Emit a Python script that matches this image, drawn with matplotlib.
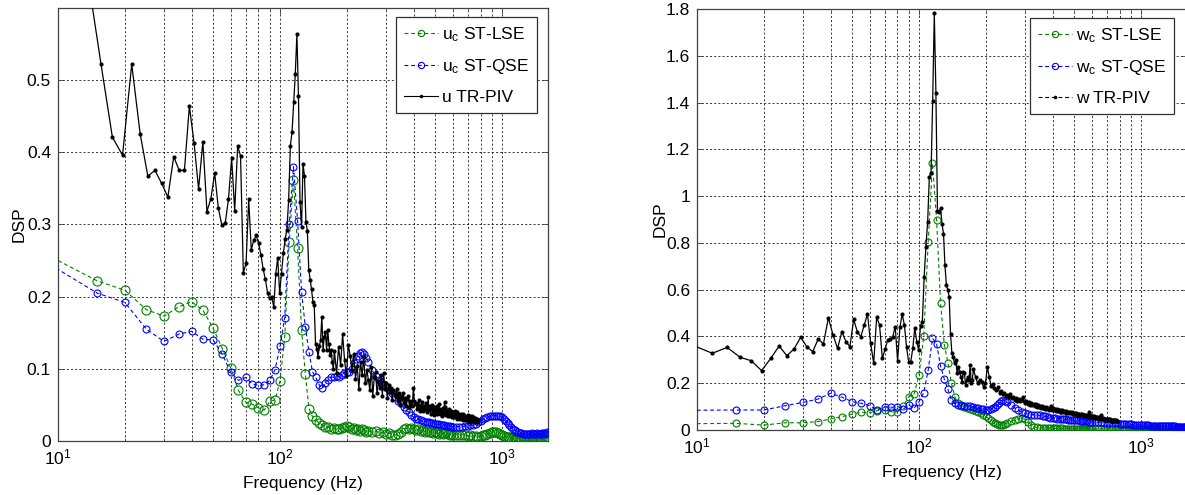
import numpy as np
import matplotlib
matplotlib.use("Agg")
import matplotlib.pyplot as plt
from matplotlib.lines import Line2D
from matplotlib.ticker import LogLocator, FixedLocator, FormatStrFormatter, NullFormatter, LogFormatterMathtext

plt.rcParams['font.family'] = ['Liberation Sans', 'DejaVu Sans']
plt.rcParams['mathtext.fontset'] = 'custom'
plt.rcParams['mathtext.rm'] = 'Liberation Sans'
plt.rcParams['mathtext.it'] = 'Liberation Sans:italic'
plt.rcParams['mathtext.bf'] = 'Liberation Sans:bold'

# ---------------- data ----------------
DF = 1000.0 / 512.0                      # TR-PIV frequency resolution (Hz)
u_piv_bins = np.r_[np.arange(7, 90), np.arange(90, 401, 2)]
w_piv_bins = np.r_[np.arange(5, 90), np.arange(90, 401, 2)]
freq_u_piv = DF * u_piv_bins
freq_w_piv = DF * w_piv_bins
freq_est = np.r_[5, np.arange(15, 251, 5), np.arange(260, 601, 10), np.arange(620, 1601, 20)]

u_piv = [
    0.64, 0.522, 0.421, 0.396, 0.522, 0.426, 0.367, 0.375, 0.357, 0.338,
    0.394, 0.375, 0.375, 0.464, 0.413, 0.349, 0.415, 0.318, 0.336, 0.371,
    0.323, 0.299, 0.302, 0.335, 0.392, 0.319, 0.409, 0.395, 0.233, 0.246,
    0.335, 0.265, 0.278, 0.285, 0.274, 0.258, 0.238, 0.224, 0.205, 0.198,
    0.199, 0.186, 0.232, 0.254, 0.205, 0.232, 0.260, 0.280, 0.293, 0.334,
    0.409, 0.428, 0.470, 0.509, 0.564, 0.478, 0.331, 0.297, 0.384, 0.367,
    0.304, 0.291,
    0.237, 0.223, 0.210, 0.193, 0.188, 0.135, 0.128, 0.117, 0.131, 0.140,
    0.172, 0.126, 0.144, 0.151, 0.126, 0.154, 0.135, 0.119, 0.126, 0.110,
    0.100,
    # coarser part (every second bin)
    0.125, 0.094, 0.130, 0.105, 0.148, 0.112, 0.090, 0.133, 0.118, 0.098,
    0.120, 0.086, 0.104, 0.072, 0.110, 0.091, 0.117, 0.080, 0.099, 0.085,
    0.070, 0.102, 0.062, 0.088, 0.095, 0.066, 0.083, 0.074, 0.091, 0.063,
    0.094, 0.072, 0.081, 0.060, 0.078, 0.068, 0.074, 0.057, 0.070, 0.065,
    0.061, 0.072, 0.055, 0.066, 0.050, 0.063, 0.058, 0.067, 0.052, 0.060,
    0.049, 0.058, 0.062, 0.047, 0.055, 0.050, 0.048, 0.073, 0.056, 0.051,
    0.053, 0.044, 0.049, 0.057, 0.042, 0.050, 0.046, 0.054, 0.041, 0.049,
    0.044, 0.052, 0.047, 0.040, 0.061, 0.043, 0.048, 0.038, 0.046, 0.050,
    0.041, 0.047, 0.036, 0.045, 0.040, 0.049, 0.038, 0.043, 0.051, 0.037,
    0.044, 0.039, 0.042, 0.035, 0.046, 0.038, 0.054, 0.047, 0.036, 0.040,
    0.043, 0.034, 0.039, 0.045, 0.035, 0.038, 0.041, 0.033, 0.040, 0.036,
    0.039, 0.033, 0.042, 0.034, 0.037, 0.031, 0.040, 0.035, 0.038, 0.032,
    0.036, 0.031, 0.038, 0.033, 0.035, 0.029, 0.037, 0.032, 0.034, 0.030,
    0.035, 0.029, 0.033, 0.030, 0.036, 0.028, 0.032, 0.030, 0.034, 0.027,
    0.032, 0.029, 0.034, 0.028, 0.031, 0.033, 0.027, 0.031, 0.029, 0.032,
    0.028, 0.031, 0.026, 0.030, 0.027, 0.029,
]

u_lse = [
    0.298,
    0.222, 0.209, 0.182, 0.173, 0.186, 0.193, 0.181, 0.156, 0.128, 0.101,
    0.070, 0.054, 0.051, 0.046, 0.043, 0.055, 0.057, 0.083, 0.144, 0.276,
    0.361, 0.267, 0.154, 0.093, 0.045, 0.034, 0.029, 0.025, 0.022, 0.020,
    0.019, 0.017, 0.018, 0.016, 0.017, 0.018, 0.020, 0.021, 0.019, 0.017,
    0.018, 0.015, 0.016, 0.014, 0.016, 0.015, 0.013, 0.014,
    0.012, 0.014, 0.011, 0.012, 0.010, 0.011, 0.009, 0.008, 0.010, 0.013,
    0.016, 0.018, 0.017, 0.018, 0.016, 0.015, 0.016, 0.014, 0.015, 0.013,
    0.014, 0.012, 0.013, 0.011, 0.012, 0.011, 0.010, 0.011, 0.010, 0.011,
    0.012, 0.010, 0.009, 0.010, 0.009,
    0.009, 0.008, 0.009, 0.008, 0.007, 0.008, 0.007, 0.007, 0.006, 0.007,
    0.008, 0.009, 0.010, 0.011, 0.012, 0.013, 0.012, 0.011, 0.010, 0.008,
    0.007, 0.006, 0.005, 0.005, 0.004, 0.004, 0.004, 0.003, 0.004, 0.004,
    0.003, 0.004, 0.004, 0.003, 0.004, 0.004, 0.003, 0.004, 0.004, 0.003,
    0.004, 0.004, 0.003, 0.004, 0.004, 0.003, 0.004, 0.004, 0.005, 0.006,
]

u_qse = [
    0.294,
    0.205, 0.192, 0.155, 0.138, 0.148, 0.152, 0.141, 0.140, 0.120, 0.095,
    0.084, 0.088, 0.079, 0.077, 0.078, 0.084, 0.099, 0.131, 0.171, 0.300,
    0.380, 0.305, 0.207, 0.158, 0.124, 0.096, 0.088, 0.078, 0.073, 0.080,
    0.085, 0.089, 0.088, 0.090, 0.089, 0.092, 0.094, 0.095, 0.096, 0.100,
    0.108, 0.114, 0.118, 0.122, 0.124, 0.120, 0.115, 0.110,
    0.098, 0.090, 0.085, 0.079, 0.075, 0.070, 0.066, 0.061, 0.056, 0.052,
    0.047, 0.043, 0.040, 0.036, 0.033, 0.031, 0.030, 0.029, 0.028, 0.027,
    0.027, 0.026, 0.025, 0.025, 0.024, 0.023, 0.023, 0.022, 0.022, 0.022,
    0.021, 0.021, 0.021, 0.020, 0.020,
    0.020, 0.020, 0.020, 0.021, 0.021, 0.022, 0.022, 0.024, 0.026, 0.028,
    0.030, 0.032, 0.033, 0.034, 0.035, 0.035, 0.035, 0.034, 0.034, 0.033,
    0.031, 0.028, 0.025, 0.022, 0.019, 0.017, 0.015, 0.013, 0.012, 0.011,
    0.011, 0.010, 0.010, 0.010, 0.010, 0.010, 0.010, 0.011, 0.010, 0.010,
    0.010, 0.011, 0.010, 0.010, 0.010, 0.011, 0.011, 0.010, 0.011, 0.012,
]

w_piv = [
    0.359, 0.328, 0.353, 0.311, 0.296, 0.254, 0.306, 0.359, 0.318, 0.346,
    0.396, 0.356, 0.335, 0.389, 0.368, 0.480, 0.406, 0.349, 0.420, 0.378,
    0.356, 0.473, 0.420, 0.399, 0.449, 0.496, 0.371, 0.285, 0.482, 0.449,
    0.306, 0.345, 0.385, 0.388, 0.399, 0.442, 0.295, 0.439, 0.496, 0.449,
    0.353, 0.292, 0.292,
    0.349, 0.437, 0.378, 0.342, 0.445, 0.463, 0.655, 0.784, 0.891, 1.083,
    1.100, 1.408, 1.781, 1.442,
    0.938, 0.930, 0.948, 0.880, 0.840, 0.705, 0.620, 0.599, 0.570, 0.410,
    0.328, 0.313, 0.285, 0.299, 0.242, 0.270, 0.249, 0.228, 0.207, 0.249,
    0.242, 0.192, 0.214, 0.228, 0.214, 0.278, 0.200, 0.214,
    # coarser part (every second bin)
    0.260, 0.228, 0.200, 0.214, 0.207, 0.185, 0.200, 0.270, 0.228, 0.190,
    0.195, 0.178, 0.172, 0.185, 0.160, 0.168, 0.152, 0.160, 0.145, 0.150,
    0.140, 0.152, 0.135, 0.142, 0.130, 0.138, 0.126, 0.133, 0.122, 0.130,
    0.142, 0.122, 0.116, 0.125, 0.113, 0.120, 0.108, 0.117, 0.106, 0.112,
    0.104, 0.111, 0.100, 0.107, 0.097, 0.104, 0.095, 0.101, 0.093, 0.099,
    0.091, 0.098, 0.089, 0.095, 0.087, 0.093, 0.101, 0.086, 0.092, 0.084,
    0.090, 0.083, 0.088, 0.081, 0.087, 0.079, 0.085, 0.078, 0.084, 0.077,
    0.082, 0.076, 0.081, 0.074, 0.079, 0.073, 0.078, 0.072, 0.077, 0.071,
    0.075, 0.070, 0.074, 0.068, 0.073, 0.067, 0.072, 0.066, 0.070, 0.065,
    0.069, 0.064, 0.068, 0.063, 0.067, 0.062, 0.066, 0.061, 0.065, 0.060,
    0.064, 0.059, 0.063, 0.058, 0.078, 0.057, 0.062, 0.056, 0.060, 0.055,
    0.059, 0.054, 0.058, 0.053, 0.057, 0.052, 0.056, 0.051, 0.055, 0.050,
    0.054, 0.049, 0.053, 0.048, 0.064, 0.047, 0.052, 0.046, 0.050, 0.045,
    0.049, 0.045, 0.048, 0.044, 0.047, 0.043, 0.046, 0.042, 0.046, 0.041,
    0.045, 0.041, 0.044, 0.040, 0.043, 0.039, 0.043, 0.038, 0.042, 0.039,
    0.042, 0.038, 0.041, 0.037, 0.040, 0.038,
]

w_lse = [
    0.025,
    0.0285, 0.021, 0.031, 0.031, 0.036, 0.047, 0.057, 0.068, 0.076, 0.074,
    0.083, 0.085, 0.078, 0.078, 0.104, 0.142, 0.154, 0.235, 0.400, 0.805,
    1.140, 0.900, 0.544, 0.365, 0.287, 0.200, 0.142, 0.114, 0.104, 0.097,
    0.093, 0.090, 0.087, 0.082, 0.078, 0.072, 0.065, 0.058, 0.050, 0.043,
    0.036, 0.030, 0.026, 0.022, 0.020, 0.022, 0.026, 0.030,
    0.037, 0.044, 0.048, 0.050, 0.046, 0.036, 0.022, 0.013, 0.011, 0.010,
    0.009, 0.009, 0.008, 0.008, 0.008, 0.007, 0.007, 0.007, 0.007, 0.006,
    0.006, 0.006, 0.006, 0.006, 0.006, 0.005, 0.006, 0.005, 0.005, 0.005,
    0.005, 0.005, 0.005, 0.005, 0.005,
    0.006, 0.005, 0.006, 0.005, 0.005, 0.006, 0.005, 0.005, 0.004, 0.005,
    0.005, 0.004, 0.005, 0.004, 0.004, 0.005, 0.004, 0.004, 0.004, 0.004,
    0.004, 0.004, 0.004, 0.003, 0.004, 0.004, 0.003, 0.004, 0.004, 0.003,
    0.004, 0.004, 0.003, 0.004, 0.003, 0.004, 0.004, 0.003, 0.004, 0.003,
    0.004, 0.004, 0.003, 0.004, 0.003, 0.004, 0.004, 0.003, 0.004, 0.004,
]

w_qse = [
    0.083,
    0.0855, 0.0855, 0.104, 0.118, 0.132, 0.157, 0.140, 0.121, 0.114, 0.104,
    0.0855, 0.100, 0.097, 0.100, 0.090, 0.107, 0.093, 0.121, 0.160, 0.256,
    0.392, 0.368, 0.274, 0.217, 0.174, 0.128, 0.114, 0.107, 0.105, 0.104,
    0.103, 0.102, 0.100, 0.096, 0.093, 0.090, 0.088, 0.086, 0.086, 0.088,
    0.094, 0.100, 0.107, 0.114, 0.122, 0.127, 0.125, 0.118,
    0.107, 0.095, 0.085, 0.077, 0.071, 0.068, 0.066, 0.065, 0.064, 0.062,
    0.060, 0.058, 0.055, 0.053, 0.051, 0.050, 0.049, 0.048, 0.047, 0.046,
    0.045, 0.044, 0.043, 0.043, 0.042, 0.041, 0.041, 0.040, 0.039, 0.039,
    0.038, 0.037, 0.036, 0.036, 0.035,
    0.034, 0.033, 0.033, 0.032, 0.031, 0.031, 0.030, 0.029, 0.028, 0.027,
    0.026, 0.026, 0.025, 0.024, 0.024, 0.023, 0.023, 0.022, 0.022, 0.021,
    0.021, 0.020, 0.020, 0.020, 0.019, 0.019, 0.018, 0.018, 0.018, 0.017,
    0.017, 0.017, 0.016, 0.016, 0.016, 0.016, 0.015, 0.015, 0.015, 0.015,
    0.015, 0.014, 0.014, 0.014, 0.014, 0.014, 0.014, 0.014, 0.014, 0.014,
]

u_labels = [r"u$_{\rm c}$ ST-LSE", r"u$_{\rm c}$ ST-QSE", "u TR-PIV"]
w_labels = [r"w$_{\rm c}$ ST-LSE", r"w$_{\rm c}$ ST-QSE", "w TR-PIV"]
u_yticks = [0, 0.1, 0.2, 0.3, 0.4, 0.5]
w_yticks = [0, 0.2, 0.4, 0.6, 0.8, 1.0, 1.2, 1.4, 1.6, 1.8]
XLIM = (10, 1611)

GREEN = '#008000'
BLUE = '#0000ff'
DASH = (0, (3.5, 2.5))

# ---------------- figure ----------------
fig = plt.figure(figsize=(11.85, 4.95), dpi=100)
W, H = 1185.0, 495.0
axL = fig.add_axes([58 / W, 1 - 441 / H, 490 / W, 433 / H])
axR = fig.add_axes([697 / W, 1 - 430 / H, 490 / W, 421 / H])


def style_axes(ax, ylim, yticks):
    ax.set_xscale('log')
    ax.set_xlim(*XLIM)
    ax.set_ylim(*ylim)
    ax.xaxis.set_major_locator(LogLocator(base=10, numticks=10))
    ax.xaxis.set_minor_locator(LogLocator(base=10, subs=np.arange(2, 10), numticks=20))
    ax.xaxis.set_major_formatter(LogFormatterMathtext())
    ax.xaxis.set_minor_formatter(NullFormatter())
    ax.yaxis.set_major_locator(FixedLocator(yticks))
    ax.yaxis.set_major_formatter(FormatStrFormatter('%g'))
    ax.tick_params(which='both', direction='in', top=True, right=True,
                   labelsize=12.5, color='#404040', pad=5)
    ax.tick_params(which='major', length=4, width=0.6)
    ax.tick_params(which='minor', length=2, width=0.5)
    gkw = dict(color='black', linestyle=(0, (2.5, 2.5)), linewidth=0.6, alpha=0.9)
    ax.grid(True, which='major', axis='both', **gkw)
    ax.grid(True, which='minor', axis='x', **gkw)
    ax.set_axisbelow(True)
    for s in ax.spines.values():
        s.set_color('#404040')
        s.set_linewidth(0.9)
    ax.set_ylabel('DSP', fontsize=12.5)
    ax.set_xlabel('Frequency (Hz)', fontsize=12.5)


def draw(ax, f_est, lse, qse, f_piv, piv, ms_lse, ms_qse):
    ax.plot(f_est, lse, color=GREEN, linestyle=DASH, linewidth=0.8,
            marker='o', markersize=ms_lse, markerfacecolor='none',
            markeredgewidth=0.8, zorder=3)
    ax.plot(f_est, qse, color=BLUE, linestyle=DASH, linewidth=0.8,
            marker='o', markersize=ms_qse, markerfacecolor='none',
            markeredgewidth=0.8, zorder=4)
    ax.plot(f_piv, piv, color='black', linestyle='-', linewidth=0.9,
            marker='o', markersize=3.0, markerfacecolor='black',
            markeredgewidth=0, zorder=5)


draw(axL, freq_est, u_lse, u_qse, freq_u_piv, u_piv, 6.5, 5.0)
draw(axR, freq_est, w_lse, w_qse, freq_w_piv, w_piv, 5.0, 5.0)

style_axes(axL, (0, 0.6), u_yticks)
style_axes(axR, (0, 1.8), w_yticks)

axL.yaxis.set_label_coords(-0.064, 0.5)
axR.yaxis.set_label_coords(-0.060, 0.5)
axL.xaxis.set_label_coords(0.5, -0.080)
axR.xaxis.set_label_coords(0.5, -0.083)


def legend(ax, labels, piv_ls, anchor):
    handles = [
        Line2D([], [], color=GREEN, linestyle=DASH, linewidth=0.8, marker='o',
               markersize=4.5, markerfacecolor='none', markeredgewidth=0.8),
        Line2D([], [], color=BLUE, linestyle=DASH, linewidth=0.8, marker='o',
               markersize=4.5, markerfacecolor='none', markeredgewidth=0.8),
        Line2D([], [], color='black', linestyle=piv_ls, linewidth=0.8, marker='o',
               markersize=2.6, markerfacecolor='black', markeredgewidth=0),
    ]
    leg = ax.legend(handles, labels, loc='upper right', bbox_to_anchor=anchor,
                    borderaxespad=0, fontsize=12.5, handlelength=1.95,
                    handletextpad=0.25, labelspacing=0.78, borderpad=0.45,
                    fancybox=False, framealpha=1, edgecolor='#303030')
    leg.get_frame().set_linewidth(0.9)
    return leg


legend(axL, u_labels, '-', (1 - 11 / 490, 1 - 9 / 433))
legend(axR, w_labels, DASH, (1 - 13 / 490, 1 - 9 / 421))

fig.savefig('out.png', dpi=100)
